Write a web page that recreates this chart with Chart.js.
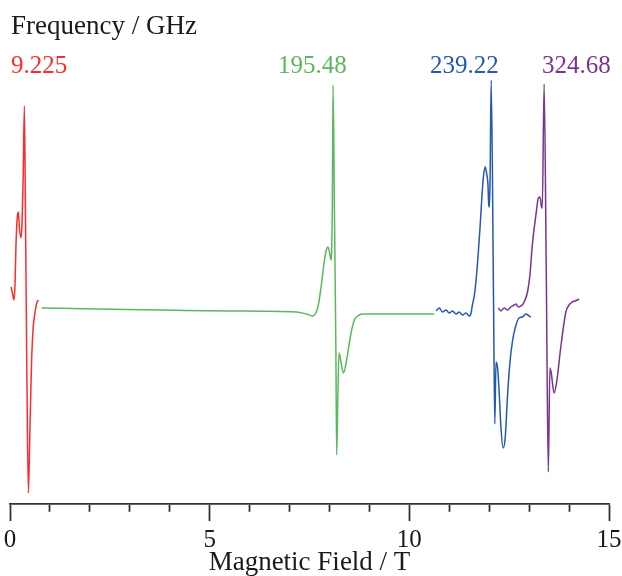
<!DOCTYPE html>
<html>
<head>
<meta charset="utf-8">
<script src="https://cdn.jsdelivr.net/npm/chart.js@4.4.1/dist/chart.umd.min.js"></script>
<style>
html,body{margin:0;padding:0;background:#fff;overflow:hidden;}
#wrap{position:relative;width:622px;height:576px;}
</style>
</head>
<body>
<div id="wrap"><canvas id="chart" width="622" height="576"></canvas></div>
<script>
// field in tesla, signal in arbitrary units
const redField=[0.03,0.07,0.10,0.125,0.15,0.18,0.21,0.23,0.27,0.30,0.33,0.36,0.39,0.42,0.46,0.50,0.54,0.58,0.625,0.67,0.71];
const redSignal=[219,211,206,221,261,288,294,281,268,281,328,400,278,144,13,78,144,178,193,203,206];

const greenField=[0.79,2.17,3.83,5.5,7.17,7.42,7.58,7.71,7.79,7.875,7.92,7.96,8.0,8.04,8.07,8.09,8.125,8.16,8.18,8.21,8.24,8.28,8.35,8.43,8.54,8.625,8.75,8.83,9.67,10.625];
const greenSignal=[198,197,196,195,194,192,190,199,219,246,256,259,254,246,293,421,293,159,51,109,153,146,133,146,173,186,191,192,192,192];

const blueField=[10.67,10.75,10.83,10.92,11.0,11.08,11.17,11.25,11.33,11.42,11.5,11.54,11.58,11.64,11.71,11.77,11.82,11.86,11.9,11.93,11.97,11.99,12.02,12.05,12.11,12.14,12.17,12.21,12.25,12.29,12.35,12.4,12.46,12.52,12.58,12.65,12.75,12.83,12.92,13.0,13.04];
const blueSignal=[195,198,194,196,193,195,192,194,191,193,190,192,201,214,244,278,311,331,339,334,321,299,321,426,198,82,144,138,114,81,58,68,111,144,164,178,188,189,192,190,189];

const purpleField=[12.23,12.29,12.375,12.46,12.54,12.625,12.67,12.73,12.79,12.83,12.875,12.96,13.02,13.08,13.17,13.23,13.27,13.31,13.33,13.375,13.43,13.48,13.52,13.55,13.625,13.69,13.79,13.92,14.0,14.08,14.15,14.21,14.25];
const purpleSignal=[198,195,198,196,199,201,202,199,200,201,204,214,231,261,291,308,309,299,298,422,231,34,138,134,113,124,158,194,201,204,205,206,207];

const freqLabels=["9.225","195.48","239.22","324.68"];
const COLORS={red:"#ff2b2b",green:"#5cb85c",blue:"#2458b2",purple:"#7c3290",text:"#1a1a1a",axis:"#333"};
const SERIF="'Liberation Serif','Times New Roman',serif";

const pts=(xs,ys)=>xs.map((x,i)=>({x,y:ys[i]}));
function lineDs(label,xs,ys,color){
  return{label,data:pts(xs,ys),borderColor:color,borderWidth:1.5,pointRadius:0,fill:false,cubicInterpolationMode:"monotone"};
}

const headerPlugin={
  id:"header",
  afterDraw(chart){
    const ctx=chart.ctx;
    ctx.save();
    ctx.textBaseline="alphabetic";
    ctx.fillStyle=COLORS.text;
    ctx.font=`27px ${SERIF}`;
    ctx.fillText("Frequency / GHz",11,34);
    ctx.font=`25px ${SERIF}`;
    const xs=[11,278,430,542];
    const cs=[COLORS.red,COLORS.green,COLORS.blue,COLORS.purple];
    freqLabels.forEach((t,i)=>{ctx.fillStyle=cs[i];ctx.fillText(t,xs[i],73);});
    ctx.restore();
  }
};

new Chart(document.getElementById("chart").getContext("2d"),{
  type:"line",
  data:{datasets:[
    lineDs("9.225 GHz",redField,redSignal,COLORS.red),
    lineDs("195.48 GHz",greenField,greenSignal,COLORS.green),
    lineDs("239.22 GHz",blueField,blueSignal,COLORS.blue),
    lineDs("324.68 GHz",purpleField,purpleSignal,COLORS.purple),
  ]},
  options:{
    responsive:false,animation:false,
    layout:{padding:{left:10,right:13,top:60,bottom:-2}},
    plugins:{legend:{display:false},tooltip:{enabled:false}},
    scales:{
      x:{type:"linear",min:0,max:15,
        afterFit:s=>{s.paddingLeft=0;s.paddingRight=0;s.height=74;},
        border:{display:true,color:COLORS.axis,width:1.8},
        grid:{drawOnChartArea:false,drawTicks:true,tickLength:17,tickWidth:1.8,tickColor:COLORS.axis,
          tickBorderDash:c=>(c.tick&&c.tick.value%5===0)?[]:[7,40]},
        ticks:{stepSize:1,autoSkip:false,maxRotation:0,padding:7,color:COLORS.text,
          font:{family:SERIF,size:25,lineHeight:1},
          callback:v=>v%5===0?String(v):""},
        title:{display:true,text:"Magnetic Field / T",color:COLORS.text,
          font:{family:SERIF,size:27,lineHeight:1},padding:{top:0,bottom:2}}
      },
      y:{display:false,min:2,max:446}
    }
  },
  plugins:[headerPlugin]
});
</script>
</body>
</html>
